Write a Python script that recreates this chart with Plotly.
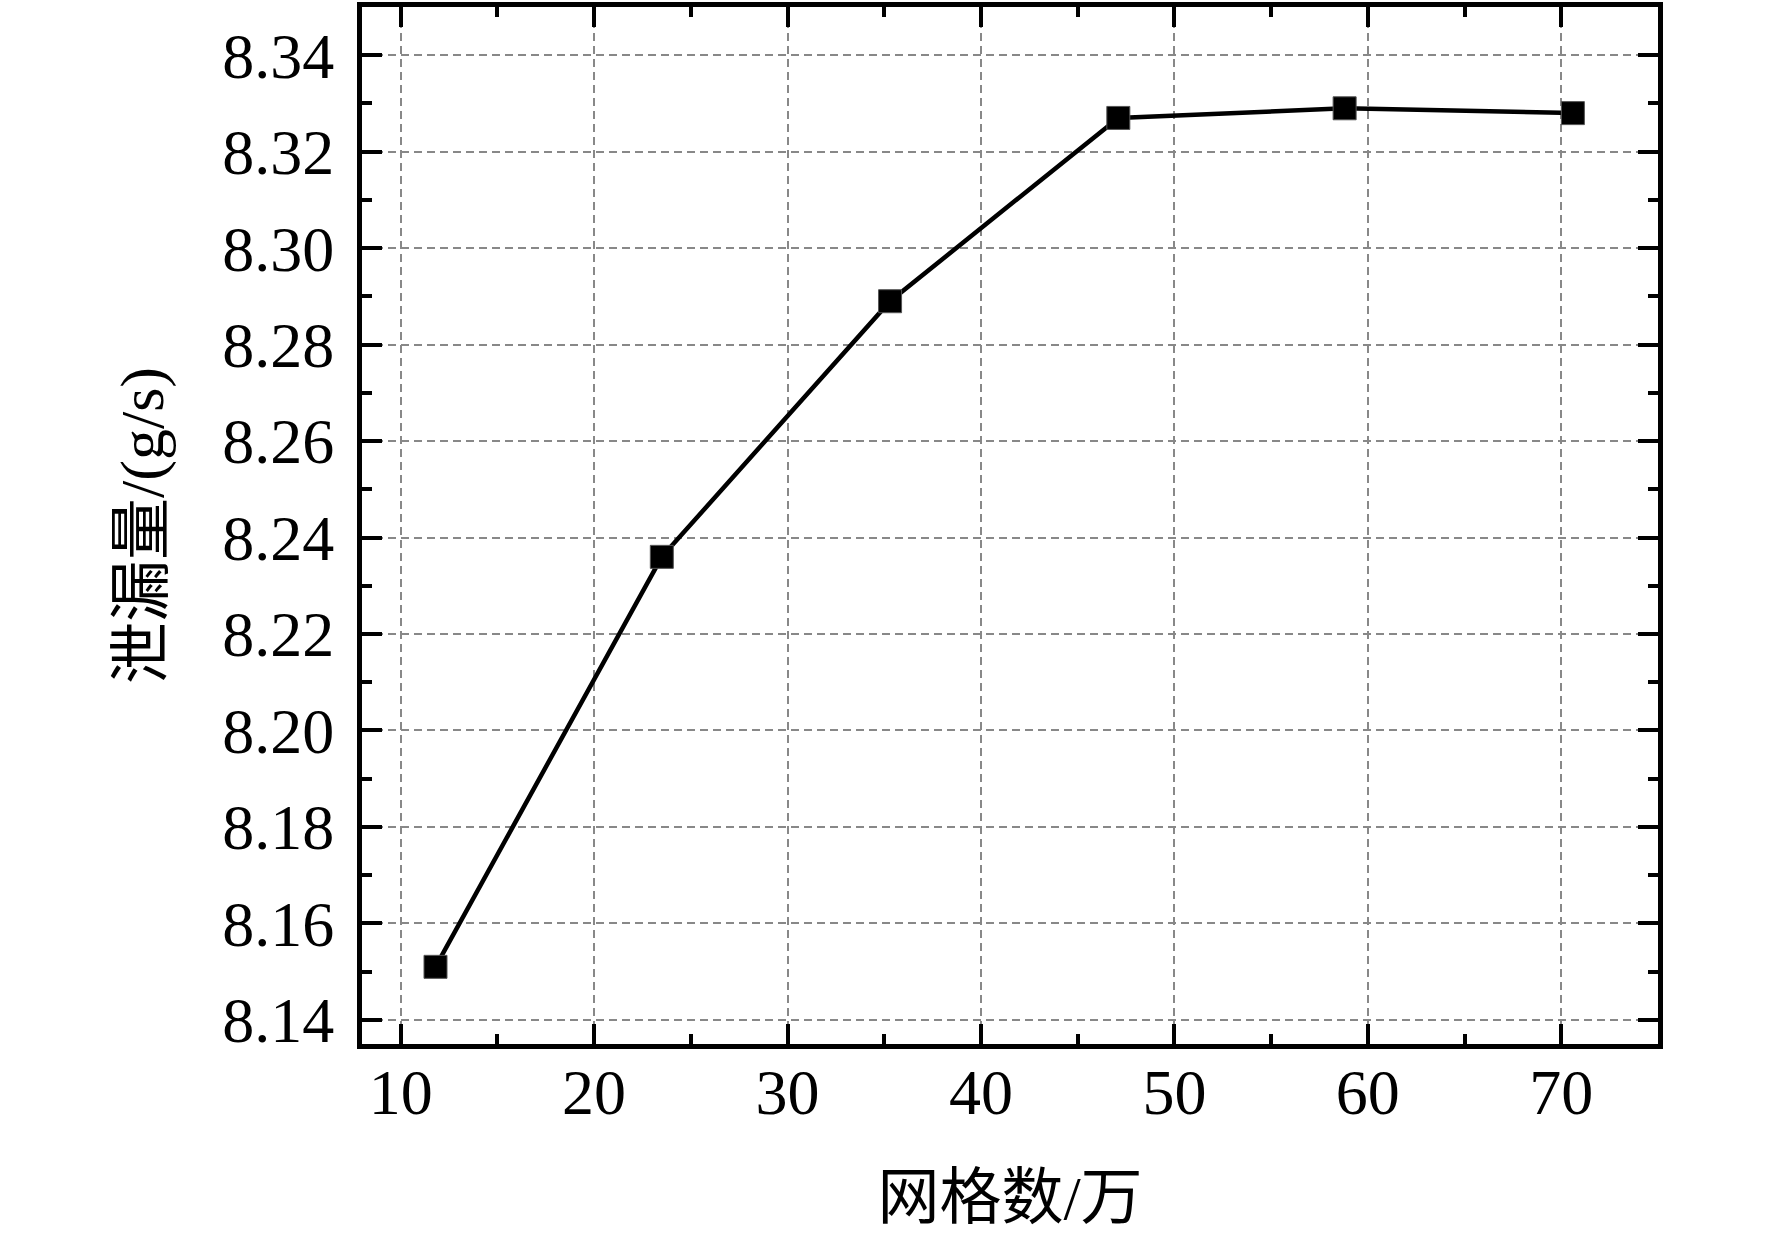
import plotly.graph_objects as go

# mesh count (x 10^4) vs leakage (g/s)
mesh_count = [11.8, 23.5, 35.3, 47.1, 58.8, 70.6]
leakage = [8.151, 8.236, 8.289, 8.327, 8.329, 8.328]

x_ticks = [10, 20, 30, 40, 50, 60, 70]
y_ticks = [8.14, 8.16, 8.18, 8.20, 8.22, 8.24, 8.26, 8.28, 8.30, 8.32, 8.34]

font_fam = "Liberation Serif, Times New Roman, Noto Sans CJK SC"

fig = go.Figure(go.Scatter(
    x=mesh_count, y=leakage, mode='lines+markers',
    line=dict(color='black', width=4.5),
    marker=dict(symbol='square', size=23, color='black',
                line=dict(color='#555', width=1)),
    showlegend=False))

axis_common = dict(
    showline=True, linecolor='black', linewidth=5, mirror='ticks',
    ticks='inside', ticklen=20, tickwidth=4, tickcolor='black',
    showgrid=True, gridcolor='#888', gridwidth=2, griddash='8px,5px',
    zeroline=False,
    tickfont=dict(family=font_fam, size=64, color='black'),
)

fig.update_xaxes(range=[8, 75], tickvals=x_ticks, ticklabelstandoff=-12,
                 minor=dict(dtick=5, tick0=0, ticks='inside', ticklen=10,
                            tickwidth=4, tickcolor='black', showgrid=False),
                 title=dict(text='网格数/万', standoff=50,
                            font=dict(family=font_fam, size=62, color='black')),
                 **axis_common)
fig.update_yaxes(range=[8.135, 8.35], tickvals=y_ticks, tickformat='.2f',
                 ticklabelstandoff=10,
                 minor=dict(dtick=0.01, tick0=8.14, ticks='inside', ticklen=10,
                            tickwidth=4, tickcolor='black', showgrid=False),
                 title=dict(text='泄漏量/(g/s)', standoff=40,
                            font=dict(family=font_fam, size=62, color='black')),
                 **axis_common)

fig.update_layout(width=1772, height=1242,
                  margin=dict(l=362, r=114, t=2, b=198),
                  plot_bgcolor='white', paper_bgcolor='white')

# drop the default page margin so the figure sits at the window corner
fig.write_html("out.html", config={'displayModeBar': False},
               post_script="document.body.style.margin='0';")
